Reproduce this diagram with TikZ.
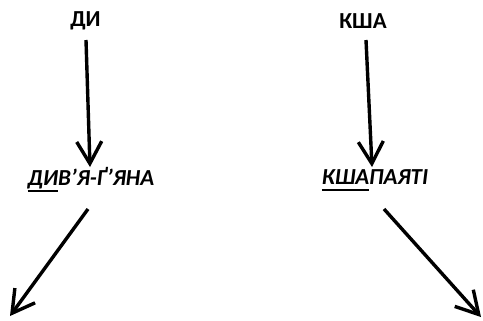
\documentclass[tikz,border=0pt]{standalone}
\usepackage{fontspec}
\setmainfont{Carlito}
\usetikzlibrary{arrows.meta}
\newcommand\myul[1]{\setbox0\hbox{#1}\rlap{\rule[-6.5bp]{\wd0}{2bp}}\box0}
\begin{document}
\begin{tikzpicture}[x=1bp,y=-1bp,
  lbl/.style={font=\fontsize{23}{27}\selectfont\bfseries, inner sep=0pt, anchor=center},
  ilbl/.style={lbl, font=\fontsize{23}{27}\selectfont\bfseries\itshape},
  arr/.style={line width=3.4bp, -{Straight Barb[length=22bp,width=25bp,line width=3.4bp]}}]
\useasboundingbox (0,0) rectangle (483,320);
\clip (0,0) rectangle (483,320);
\node[lbl] (di) at (85.5,21) {ДИ};
\node[lbl] (ksha) at (363,21) {КША};
\node[ilbl] (divya) at (91,180) {\myul{ДИ}В’Я-Ґ’ЯНА};
\node[ilbl] (kshapa) at (375,180) {\myul{КША}ПАЯТІ};
\coordinate (a1s) at (86,40);
\coordinate (a1e) at (90,167);
\coordinate (a2s) at (366,40);
\coordinate (a2e) at (372,167);
\coordinate (a3s) at (88,209);
\coordinate (a3e) at (10,316);
\coordinate (a4s) at (384,209);
\coordinate (a4e) at (481,317);
\draw[arr] (a1s) -- (a1e);
\draw[arr] (a2s) -- (a2e);
\draw[arr] (a3s) -- (a3e);
\draw[arr] (a4s) -- (a4e);
\end{tikzpicture}
\end{document}
